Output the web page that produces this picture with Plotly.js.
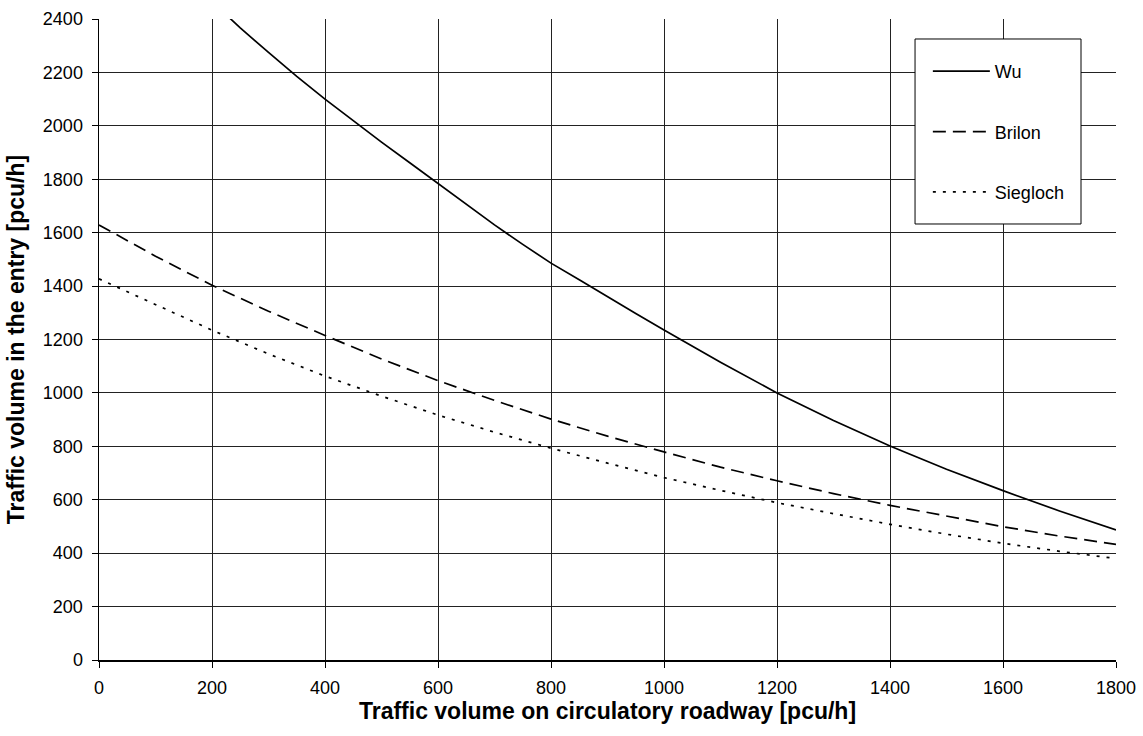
<!DOCTYPE html>
<html>
<head>
<meta charset="utf-8">
<script src="https://cdn.plot.ly/plotly-3.0.1.min.js"></script>
<style>html,body{margin:0;padding:0;background:#fff;}#chart{width:1143px;height:736px;}</style>
</head>
<body>
<div id="chart"></div>
<script>
// Circulating flow [pcu/h]
const wuX = [200, 250, 300, 350, 400, 450, 500, 550, 600, 650, 700, 750, 800, 850, 900, 950, 1000, 1100, 1200, 1300, 1400, 1500, 1600, 1700, 1800];
const wuY = [2465, 2367, 2275, 2185, 2100, 2018, 1939, 1862, 1785, 1707, 1629, 1556, 1486, 1424, 1360, 1297, 1236, 1115, 1000, 897, 801, 714, 634, 558, 487];

const brilonX = [0, 100, 200, 300, 400, 500, 600, 700, 800, 900, 1000, 1100, 1200, 1300, 1400, 1500, 1600, 1700, 1800];
const brilonY = [1629, 1512, 1403, 1306, 1215, 1127, 1046, 972, 902, 838, 779, 722, 671, 623, 579, 538, 499, 464, 433];

const sieglochX = [0, 100, 200, 300, 400, 500, 600, 700, 800, 900, 1000, 1100, 1200, 1300, 1400, 1500, 1600, 1700, 1800];
const sieglochY = [1427, 1330, 1235, 1146, 1063, 988, 917, 853, 793, 737, 683, 635, 589, 548, 508, 471, 437, 407, 380];

const seriesNames = ["Wu", "Brilon", "Siegloch"];
const xTicks = [0, 200, 400, 600, 800, 1000, 1200, 1400, 1600, 1800];
const yTicks = [0, 200, 400, 600, 800, 1000, 1200, 1400, 1600, 1800, 2000, 2200, 2400];

const FONT = "Liberation Sans, Arial, sans-serif";

const traces = [
  {x: wuX, y: wuY, name: seriesNames[0], mode: "lines", legendgroup: "a",
   line: {color: "#000", width: 1.7, dash: "solid"}},
  {x: brilonX, y: brilonY, name: seriesNames[1], mode: "lines", legendgroup: "b",
   line: {color: "#000", width: 1.7, dash: "13px,7px"}},
  {x: sieglochX, y: sieglochY, name: seriesNames[2], mode: "lines", legendgroup: "c",
   line: {color: "#000", width: 1.7, dash: "3px,7px"}}
];

const layout = {
  width: 1143, height: 736,
  margin: {l: 99, r: 27, t: 19, b: 76, pad: 0},
  paper_bgcolor: "#fff", plot_bgcolor: "#fff",
  font: {family: FONT, size: 18, color: "#000"},
  showlegend: true,
  shapes: [{
    type: "rect", xref: "paper", yref: "paper",
    x0: 0.8024, x1: 0.9656, y0: 0.6802, y1: 0.9688,
    fillcolor: "#fff", line: {color: "#000", width: 1}, layer: "above"
  }],
  legend: {
    x: 0.8150, y: 0.9470, xanchor: "left", yanchor: "top",
    bgcolor: "rgba(0,0,0,0)", borderwidth: 0,
    font: {family: FONT, size: 18, color: "#000"},
    tracegroupgap: 34, traceorder: "grouped",
    itemwidth: 57, entrywidth: 140
  },
  xaxis: {
    range: [0, 1800], tickvals: xTicks, ticktext: xTicks.map(String),
    showgrid: true, gridcolor: "#222", gridwidth: 1,
    showline: true, linecolor: "#000", linewidth: 1.5,
    zeroline: false, ticks: "outside", ticklen: 6, tickcolor: "#000", tickwidth: 1,
    ticklabelstandoff: 5,
    tickfont: {family: FONT, size: 18, color: "#000"},
    title: {text: "Traffic volume on circulatory roadway [pcu/h]", standoff: 6,
            font: {family: FONT, size: 23, color: "#000", weight: "bold"}}
  },
  yaxis: {
    range: [0, 2400], tickvals: yTicks, ticktext: yTicks.map(String),
    showgrid: true, gridcolor: "#222", gridwidth: 1,
    showline: true, linecolor: "#000", linewidth: 1.5,
    zeroline: false, ticks: "outside", ticklen: 6, tickcolor: "#000", tickwidth: 1,
    ticklabelstandoff: 5,
    tickfont: {family: FONT, size: 18, color: "#000"},
    title: {text: "Traffic volume in the entry [pcu/h]", standoff: 12,
            font: {family: FONT, size: 23, color: "#000", weight: "bold"}}
  }
};

Plotly.newPlot("chart", traces, layout, {displayModeBar: false, staticPlot: true});
</script>
</body>
</html>
